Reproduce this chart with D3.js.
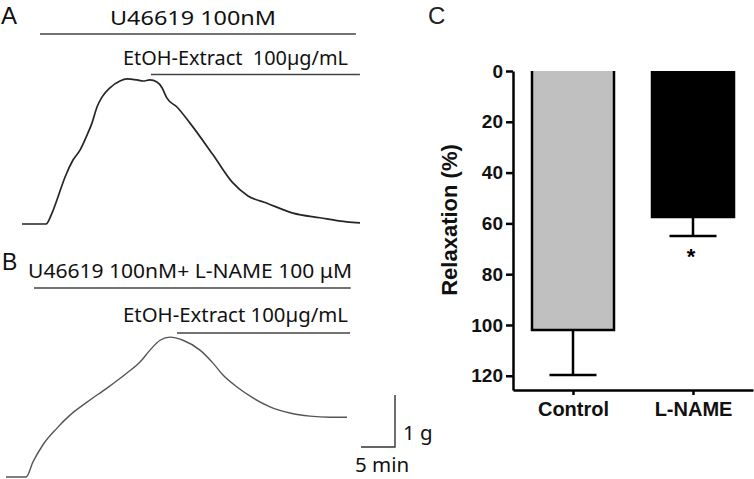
<!DOCTYPE html>
<html><head><meta charset="utf-8">
<script src="https://cdn.jsdelivr.net/npm/d3@7"></script>
<style>body{margin:0;background:#fff}svg{display:block}</style>
</head><body><svg id="c" width="754" height="479"></svg>
<script>
// ---- Panel A: isometric tension trace (time in min, tension in g above baseline)
const traceA_time = [0, 3.53, 4.41, 5.29, 6.32, 7.5, 8.53, 9.56, 10.29, 11.03, 11.76, 12.94, 14.41, 15.44, 16.91, 17.79, 18.82, 19.85, 20.59, 21.32, 22.79, 24.71, 28.09, 30.88, 33.24, 36.03, 39.85, 43.82, 47.79, 49.71];
const traceA_tension = [0, 0, 0.21, 0.52, 0.9, 1.23, 1.42, 1.71, 1.94, 2.25, 2.44, 2.62, 2.75, 2.79, 2.77, 2.75, 2.77, 2.73, 2.62, 2.42, 2.25, 1.94, 1.33, 0.81, 0.54, 0.4, 0.21, 0.12, 0.04, 0.02];
const treatA_labels = ["U46619 100nM", "EtOH-Extract  100µg/mL"];
const treatA_start = [2.65, 18.97];
const treatA_end = [49.1, 49.7];

// ---- Panel B
const traceB_time = [0, 2.94, 3.97, 5.44, 7.5, 9.41, 11.91, 14.85, 17.79, 19.71, 21.18, 22.65, 24.12, 26.03, 28.53, 30.44, 31.91, 33.97, 36.32, 38.82, 41.76, 44.71, 47.65, 50.15];
const traceB_tension = [0, 0, 0.29, 0.62, 0.94, 1.19, 1.44, 1.71, 2.0, 2.21, 2.44, 2.63, 2.69, 2.63, 2.44, 2.19, 1.96, 1.73, 1.52, 1.35, 1.23, 1.17, 1.15, 1.15];
const treatB_labels = ["U46619 100nM+ L-NAME 100 μM", "EtOH-Extract 100µg/mL"];
const treatB_start = [4.12, 25.15];
const treatB_end = [50.7, 50.6];
const scaleBar_min = 5, scaleBar_g = 1;
const scaleBar_labels = ["1 g", "5 min"];

// ---- Panel C: relaxation bar chart
const groups = ["Control", "L-NAME"];
const relaxMean = [102, 57.5];
const relaxSEM = [17.7, 7.5];
const relaxSig = ["", "*"];
const yTicks = [0, 20, 40, 60, 80, 100, 120];
const barFill = ["#c0c0c0", "#000000"];

const svg = d3.select("#c");
const sansText = "'Noto Sans', 'Open Sans', sans-serif";
const boldFont = "'Liberation Sans', Arial, sans-serif";

// panel letters
svg.append("text").attr("x", 1).attr("y", 24).attr("font-family", boldFont).attr("font-size", 24).attr("fill", "#111").text("A");
svg.append("text").attr("x", 2).attr("y", 270).attr("font-family", boldFont).attr("font-size", 23).attr("fill", "#111").text("B");
svg.append("text").attr("x", 428).attr("y", 24).attr("font-family", boldFont).attr("font-size", 24).attr("fill", "#222").text("C");

// ---- trace panels
function tracePanel(time, tension, xScale, yScale, color, width) {
  const line = d3.line().x((d, i) => xScale(time[i])).y(d => yScale(d)).curve(d3.curveMonotoneX);
  svg.append("path").datum(tension).attr("d", line).attr("fill", "none")
    .attr("stroke", color).attr("stroke-width", width).attr("stroke-linejoin", "round");
}
const xA = d3.scaleLinear().domain([0, 49.71]).range([22, 360]);
const yA = d3.scaleLinear().domain([0, 3]).range([224, 68]);
const xB = d3.scaleLinear().domain([0, 50]).range([6, 346]);
const yB = d3.scaleLinear().domain([0, 3]).range([477, 321]);

tracePanel(traceA_time, traceA_tension, xA, yA, "#262626", 1.7);
tracePanel(traceB_time, traceB_tension, xB, yB, "#555555", 1.4);

// treatment bars + labels
function treat(labels, starts, ends, xScale, lineY, textX, textY, textW) {
  labels.forEach((lab, i) => {
    svg.append("line").attr("x1", xScale(starts[i])).attr("x2", xScale(ends[i]))
      .attr("y1", lineY[i]).attr("y2", lineY[i]).attr("stroke", "#444").attr("stroke-width", 1.4);
    svg.append("text").attr("x", textX[i]).attr("y", textY[i]).attr("font-family", sansText)
      .attr("font-size", 20.5).attr("fill", "#111").attr("textLength", textW[i]).attr("lengthAdjust", "spacingAndGlyphs")
      .style("white-space", "pre").attr("xml:space", "preserve").text(lab);
  });
}
treat(treatA_labels, treatA_start, treatA_end, xA, [34, 74.5], [110, 123], [25, 65], [166, 225]);
treat(treatB_labels, treatB_start, treatB_end, xB, [288, 333], [28, 123], [278, 322], [324, 225]);

// scale bar
const sbX = 395, sbY = 447;
const sbW = xB(scaleBar_min) - xB(0), sbH = yB(0) - yB(scaleBar_g);
svg.append("path").attr("d", `M${sbX - sbW},${sbY}H${sbX}V${sbY - sbH}`).attr("fill", "none")
  .attr("stroke", "#333").attr("stroke-width", 1.4);
svg.append("text").attr("x", 403).attr("y", 440).attr("font-family", sansText).attr("font-size", 20.5).attr("fill", "#111").text(scaleBar_labels[0]);
svg.append("text").attr("x", 382).attr("y", 472).attr("text-anchor", "middle").attr("font-family", sansText).attr("font-size", 20.5).attr("fill", "#111").text(scaleBar_labels[1]);

// ---- panel C
const y = d3.scaleLinear().domain([0, 125.6]).range([71, 390]);
const x = d3.scalePoint().domain(groups).range([513, 753]).padding(0.5);
const barW = 82;

const gC = svg.append("g");
groups.forEach((g, i) => {
  const x0 = x(g) - barW / 2, x1 = x(g) + barW / 2;
  gC.append("path").attr("d", `M${x0},${y(0)}V${y(relaxMean[i])}H${x1}V${y(0)}`)
    .attr("fill", barFill[i]).attr("stroke", "#000").attr("stroke-width", 2.5);
  const ey = y(relaxMean[i] + relaxSEM[i]);
  gC.append("line").attr("x1", x(g)).attr("x2", x(g)).attr("y1", y(relaxMean[i])).attr("y2", ey)
    .attr("stroke", "#000").attr("stroke-width", 2.5);
  gC.append("line").attr("x1", x(g) - 23.5).attr("x2", x(g) + 23.5).attr("y1", ey).attr("y2", ey)
    .attr("stroke", "#000").attr("stroke-width", 2.5);
  if (relaxSig[i]) {
    gC.append("text").attr("x", x(g) - 2).attr("y", ey + 28).attr("text-anchor", "middle")
      .attr("font-family", boldFont).attr("font-weight", "bold").attr("font-size", 22).text(relaxSig[i]);
  }
});

const yAxis = gC.append("g").attr("transform", "translate(513,0)")
  .call(d3.axisLeft(y).tickValues(yTicks).tickSize(7).tickSizeOuter(0).tickPadding(3));
const xAxis = gC.append("g").attr("transform", "translate(0,390)")
  .call(d3.axisBottom(x).tickSize(5).tickSizeOuter(0).tickPadding(7));
[yAxis, xAxis].forEach(a => {
  a.selectAll("path, line").attr("stroke", "#000").attr("stroke-width", 2.5);
  a.selectAll("text").attr("font-family", boldFont).attr("font-weight", "bold").attr("fill", "#111");
});
yAxis.selectAll("text").attr("font-size", 19);
xAxis.selectAll("text").attr("font-size", 20);

gC.append("text").attr("transform", "translate(457,220) rotate(-90)").attr("text-anchor", "middle")
  .attr("font-family", boldFont).attr("font-weight", "bold").attr("font-size", 22).attr("fill", "#111")
  .text("Relaxation (%)");
</script>
</body></html>
